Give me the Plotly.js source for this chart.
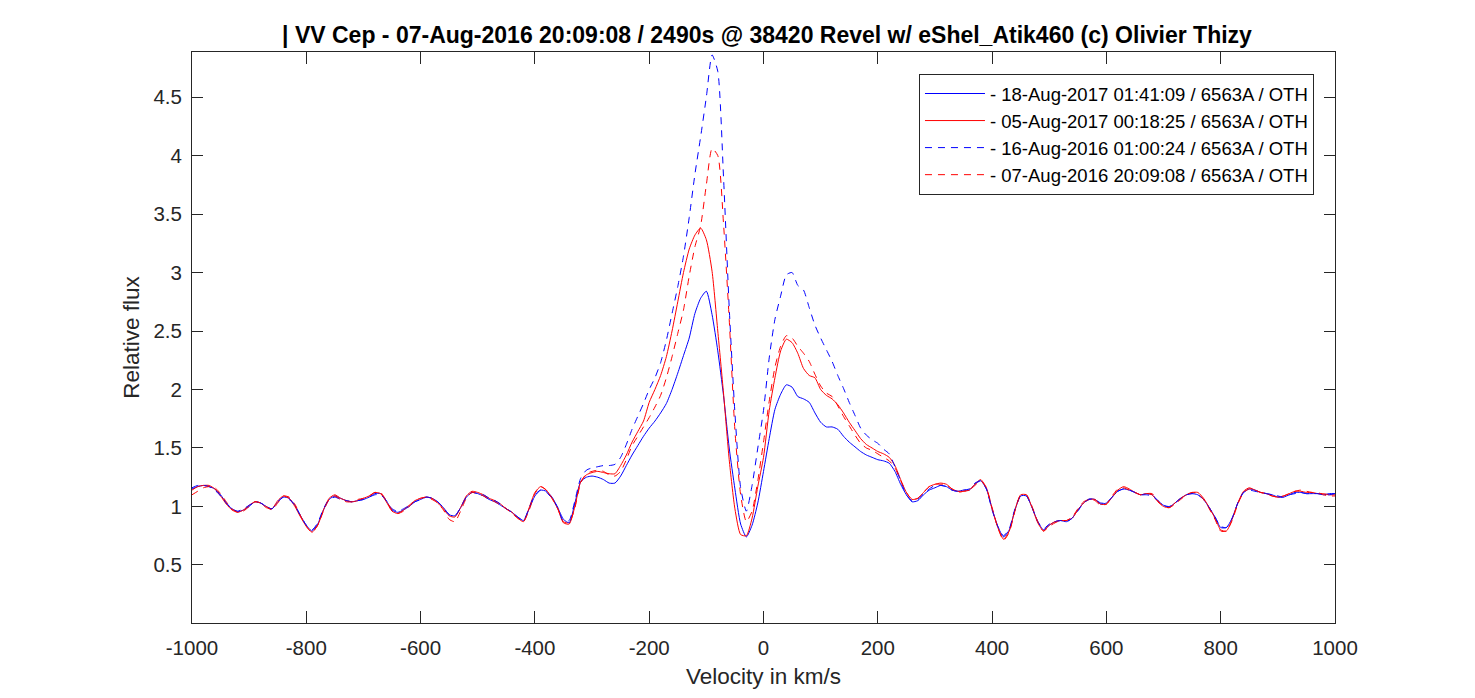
<!DOCTYPE html>
<html>
<head>
<meta charset="utf-8">
<script src="https://cdn.plot.ly/plotly-3.0.1.min.js"></script>
<style>
    html, body { margin: 0; padding: 0; background: #ffffff; }
    #spectrumChart { width: 1475px; height: 698px; }
</style>
</head>
<body>
<div id="spectrumChart"></div>
<script>
// Velocity grid (km/s), step 10
const velocity = [
    -1000,-990,-980,-970,-960,-950,-940,-930,-920,-910,
    -900,-890,-880,-870,-860,-850,-840,-830,-820,-810,
    -800,-790,-780,-770,-760,-750,-740,-730,-720,-710,
    -700,-690,-680,-670,-660,-650,-640,-630,-620,-610,
    -600,-590,-580,-570,-560,-550,-540,-530,-520,-510,
    -500,-490,-480,-470,-460,-450,-440,-430,-420,-410,
    -400,-390,-380,-370,-360,
    -350,-340,-330,-320,-310,-300,-290,-280,-270,-260,
    -250,-240,-230,-220,-210,-200,-190,-180,-170,-160,
    -150,-140,-130,-120,-110,-100,-90,-80,-70,-60,
    -50,-40,-30,-20,-10,0,10,20,30,40,
    50,60,70,80,90,100,110,120,130,140,
    150,160,170,180,190,200,210,220,230,240,
    250,260,270,280,290,300,
    310,320,330,340,350,360,370,380,390,400,
    410,420,430,440,450,460,470,480,490,500,
    510,520,530,540,550,560,570,580,590,600,
    610,620,630,640,650,660,670,680,690,700,
    710,720,730,740,750,760,770,780,790,800,
    810,820,830,840,850,860,870,880,890,900,
    910,920,930,940,950,960,970,980,990,1000
];

// 18-Aug-2017 01:41:09 (blue, solid)
const flux20170818 = [
    1.15,1.17,1.18,1.17,1.15,1.10,1.03,0.98,0.955,0.97,
    1.00,1.04,1.03,1.00,0.98,1.04,1.08,1.07,1.01,0.92,
    0.84,0.79,0.85,0.97,1.06,1.09,1.07,1.05,1.04,1.05,
    1.06,1.08,1.11,1.11,1.05,0.97,0.95,0.97,1.00,1.04,
    1.06,1.08,1.07,1.04,0.99,0.93,0.92,0.99,1.08,1.12,
    1.11,1.09,1.06,1.04,1.01,0.98,0.95,0.91,0.88,0.98,
    1.09,1.14,1.13,1.08,0.99,
    0.89,0.86,1.03,1.21,1.25,1.26,1.25,1.23,1.20,1.20,
    1.26,1.35,1.44,1.52,1.60,1.67,1.73,1.80,1.88,2.00,
    2.14,2.29,2.44,2.65,2.78,2.84,2.64,2.33,1.95,1.50,
    1.15,0.85,0.74,0.84,1.03,1.30,1.58,1.83,1.96,2.04,
    2.02,1.94,1.92,1.89,1.80,1.72,1.68,1.68,1.66,1.60,
    1.55,1.51,1.47,1.44,1.42,1.40,1.39,1.37,1.30,1.19,
    1.10,1.04,1.05,1.10,1.14,1.16,
    1.18,1.17,1.14,1.13,1.14,1.14,1.19,1.22,1.15,0.98,
    0.83,0.74,0.80,0.97,1.09,1.09,0.99,0.87,0.80,0.84,
    0.87,0.88,0.87,0.90,0.97,1.03,1.065,1.06,1.02,1.03,
    1.08,1.13,1.15,1.14,1.12,1.10,1.11,1.10,1.05,1.01,
    0.995,1.03,1.07,1.10,1.11,1.10,1.06,0.99,0.91,0.82,
    0.82,0.90,1.03,1.12,1.15,1.14,1.12,1.11,1.10,1.08,
    1.08,1.10,1.12,1.12,1.11,1.11,1.11,1.10,1.11,1.11
];

// 05-Aug-2017 00:18:25 (red, solid)
const flux20170805 = [
    1.14,1.17,1.18,1.18,1.15,1.09,1.02,0.97,0.95,0.97,
    1.01,1.04,1.03,0.99,0.98,1.05,1.09,1.07,1.00,0.91,
    0.83,0.78,0.84,0.97,1.07,1.10,1.07,1.05,1.04,1.05,
    1.07,1.09,1.12,1.11,1.04,0.96,0.94,0.97,1.01,1.05,
    1.07,1.08,1.07,1.03,0.98,0.92,0.91,0.99,1.09,1.13,
    1.12,1.10,1.07,1.05,1.02,0.98,0.95,0.90,0.87,0.99,
    1.12,1.17,1.14,1.07,0.98,
    0.86,0.85,1.00,1.21,1.27,1.29,1.30,1.29,1.28,1.28,
    1.35,1.44,1.55,1.64,1.73,1.89,2.00,2.12,2.28,2.50,
    2.75,3.00,3.20,3.32,3.38,3.28,3.01,2.50,1.97,1.40,
    0.98,0.76,0.75,0.90,1.17,1.42,1.82,2.10,2.33,2.43,
    2.40,2.31,2.18,2.12,2.10,2.00,1.95,1.92,1.87,1.80,
    1.72,1.65,1.58,1.53,1.50,1.47,1.45,1.42,1.35,1.23,
    1.12,1.06,1.07,1.12,1.17,1.19,
    1.20,1.19,1.15,1.13,1.13,1.14,1.19,1.23,1.16,0.98,
    0.82,0.72,0.79,0.97,1.10,1.10,0.99,0.86,0.79,0.84,
    0.87,0.88,0.88,0.90,0.97,1.03,1.06,1.06,1.02,1.02,
    1.08,1.14,1.17,1.15,1.12,1.10,1.11,1.10,1.04,1.00,
    0.99,1.03,1.07,1.10,1.12,1.12,1.07,0.99,0.90,0.80,
    0.79,0.89,1.03,1.13,1.16,1.14,1.12,1.11,1.09,1.08,
    1.09,1.11,1.13,1.13,1.12,1.12,1.11,1.11,1.10,1.10
];

// 16-Aug-2016 01:00:24 (blue, dashed)
const flux20160816 = [
    1.16,1.18,1.18,1.17,1.14,1.09,1.03,0.98,0.96,0.98,
    1.01,1.04,1.03,1.00,0.98,1.04,1.08,1.06,1.01,0.92,
    0.84,0.80,0.86,0.98,1.06,1.08,1.06,1.05,1.04,1.05,
    1.06,1.08,1.10,1.10,1.05,0.98,0.96,0.98,1.01,1.04,
    1.06,1.08,1.07,1.04,0.99,0.93,0.92,0.99,1.08,1.12,
    1.11,1.10,1.07,1.05,1.02,0.98,0.95,0.91,0.88,0.99,
    1.10,1.14,1.12,1.07,0.99,
    0.87,0.88,1.05,1.24,1.31,1.33,1.34,1.35,1.35,1.36,
    1.42,1.53,1.66,1.77,1.88,2.00,2.10,2.23,2.42,2.65,
    2.88,3.14,3.47,3.84,4.16,4.50,4.86,4.72,3.82,2.70,
    1.80,1.16,0.96,1.18,1.50,1.82,2.27,2.60,2.80,2.98,
    3.00,2.89,2.85,2.70,2.55,2.44,2.34,2.24,2.12,2.01,
    1.89,1.78,1.67,1.61,1.57,1.54,1.49,1.45,1.34,1.22,
    1.10,1.05,1.06,1.11,1.15,1.18,
    1.18,1.17,1.14,1.13,1.14,1.15,1.20,1.22,1.15,0.97,
    0.83,0.75,0.81,0.98,1.09,1.09,0.99,0.87,0.81,0.85,
    0.87,0.88,0.87,0.90,0.96,1.03,1.06,1.06,1.03,1.03,
    1.08,1.13,1.15,1.14,1.12,1.10,1.10,1.09,1.05,1.01,
    1.00,1.03,1.07,1.10,1.11,1.10,1.06,0.99,0.91,0.83,
    0.82,0.90,1.03,1.12,1.14,1.13,1.12,1.11,1.10,1.09,
    1.08,1.10,1.11,1.12,1.11,1.11,1.11,1.10,1.10,1.11
];

// 07-Aug-2016 20:09:08 (red, dashed)
const flux20160807 = [
    1.10,1.13,1.16,1.17,1.16,1.11,1.04,0.98,0.95,0.96,
    1.00,1.04,1.03,1.00,0.97,1.03,1.09,1.08,1.02,0.92,
    0.83,0.78,0.84,0.96,1.06,1.09,1.06,1.04,1.04,1.06,
    1.07,1.09,1.12,1.12,1.05,0.97,0.94,0.96,1.00,1.05,
    1.07,1.08,1.06,1.03,0.97,0.89,0.87,0.96,1.07,1.12,
    1.11,1.09,1.06,1.04,1.01,0.98,0.94,0.90,0.87,0.97,
    1.11,1.17,1.14,1.07,0.98,
    0.87,0.86,0.99,1.20,1.28,1.30,1.31,1.30,1.27,1.26,
    1.30,1.40,1.52,1.60,1.68,1.76,1.85,1.95,2.10,2.28,
    2.48,2.68,2.97,3.22,3.40,3.75,4.06,4.00,3.42,2.60,
    1.65,1.10,0.87,0.96,1.22,1.55,1.90,2.19,2.37,2.46,
    2.44,2.37,2.31,2.24,2.13,2.03,1.97,1.94,1.86,1.77,
    1.69,1.61,1.54,1.50,1.48,1.45,1.42,1.39,1.33,1.22,
    1.12,1.06,1.07,1.12,1.17,1.19,
    1.19,1.18,1.15,1.12,1.13,1.14,1.18,1.22,1.16,0.99,
    0.82,0.71,0.78,0.96,1.10,1.10,1.00,0.87,0.79,0.83,
    0.86,0.88,0.88,0.91,0.98,1.04,1.06,1.05,1.01,1.02,
    1.09,1.15,1.16,1.14,1.12,1.10,1.11,1.11,1.05,1.00,
    0.99,1.02,1.06,1.10,1.12,1.11,1.06,0.98,0.89,0.79,
    0.79,0.88,1.02,1.12,1.15,1.14,1.12,1.11,1.09,1.08,
    1.09,1.11,1.13,1.14,1.13,1.12,1.12,1.10,1.09,1.09
];

const seriesNames = [
    '- 18-Aug-2017 01:41:09 / 6563A / OTH',
    '- 05-Aug-2017 00:18:25 / 6563A / OTH',
    '- 16-Aug-2016 01:00:24 / 6563A / OTH',
    '- 07-Aug-2016 20:09:08 / 6563A / OTH'
];

// Tick labels written with a plain hyphen, as in the original figure
const xTicks = [-1000, -800, -600, -400, -200, 0, 200, 400, 600, 800, 1000];
const xTickLabels = ['-1000', '-800', '-600', '-400', '-200', '0', '200', '400', '600', '800', '1000'];
const yTicks = [0.5, 1, 1.5, 2, 2.5, 3, 3.5, 4, 4.5];
const yTickLabels = ['0.5', '1', '1.5', '2', '2.5', '3', '3.5', '4', '4.5'];

const axisColor = '#262626';
const fontFamily = 'Liberation Sans, Arial, Helvetica, sans-serif';

function makeTrace(y, name, color, dash) {
    return {
        x: velocity,
        y: y,
        name: name,
        type: 'scatter',
        mode: 'lines',
        line: { color: color, width: 1, dash: dash, shape: 'spline', smoothing: 0.6 }
    };
}

const data = [
    makeTrace(flux20170818, seriesNames[0], '#0000ff', 'solid'),
    makeTrace(flux20170805, seriesNames[1], '#ff0000', 'solid'),
    makeTrace(flux20160816, seriesNames[2], '#0000ff', '7px,6px'),
    makeTrace(flux20160807, seriesNames[3], '#ff0000', '7px,6px')
];

const layout = {
    width: 1475,
    height: 698,
    margin: { l: 192, r: 140, t: 52, b: 75 },
    paper_bgcolor: '#ffffff',
    plot_bgcolor: '#ffffff',
    font: { family: fontFamily, color: axisColor, size: 20 },
    title: {
        text: '<b>| VV Cep - 07-Aug-2016 20:09:08 / 2490s @ 38420 Revel w/ eShel_Atik460 (c) Olivier Thizy</b>',
        font: { family: fontFamily, size: 23, color: '#000000' },
        x: 0.52,
        xanchor: 'center',
        y: 0.95,
        yanchor: 'middle'
    },
    xaxis: {
        range: [-1000, 1000],
        tickvals: xTicks,
        ticktext: xTickLabels,
        ticks: 'inside',
        ticklen: 12,
        tickcolor: axisColor,
        ticklabelstandoff: 6,
        showline: true,
        linecolor: axisColor,
        linewidth: 1,
        mirror: 'ticks',
        showgrid: false,
        zeroline: false,
        tickfont: { size: 20.5, color: axisColor },
        title: { text: 'Velocity in km/s', font: { size: 22.5, color: axisColor }, standoff: 10 }
    },
    yaxis: {
        range: [0.004, 4.885],
        tickvals: yTicks,
        ticktext: yTickLabels,
        ticks: 'inside',
        ticklen: 11,
        tickcolor: axisColor,
        ticklabelstandoff: 5,
        showline: true,
        linecolor: axisColor,
        linewidth: 1,
        mirror: 'ticks',
        showgrid: false,
        zeroline: false,
        tickfont: { size: 20.5, color: axisColor },
        title: { text: 'Relative flux', font: { size: 22.5, color: axisColor }, standoff: 7 }
    },
    showlegend: true,
    legend: {
        x: 0.9816,
        y: 0.9615,
        xanchor: 'right',
        yanchor: 'top',
        bgcolor: '#ffffff',
        bordercolor: '#262626',
        borderwidth: 1,
        itemwidth: 60,
        tracegroupgap: 0,
        font: { size: 18.5, color: '#000000' }
    }
};

Plotly.newPlot('spectrumChart', data, layout, { displayModeBar: false, responsive: false });
</script>
</body>
</html>
